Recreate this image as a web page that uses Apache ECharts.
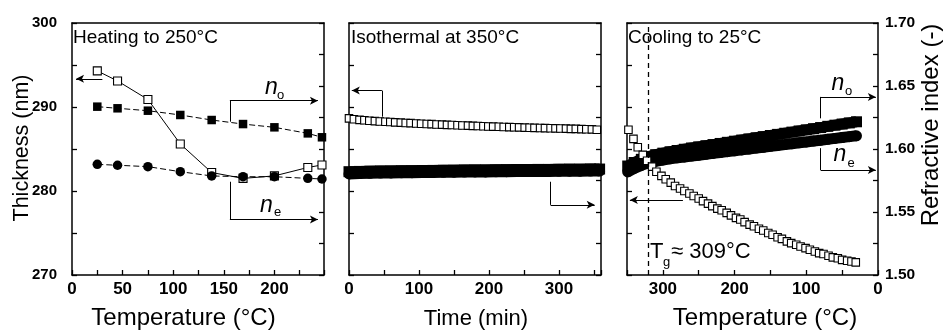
<!DOCTYPE html>
<html><head><meta charset="utf-8">
<script src="https://cdn.jsdelivr.net/npm/echarts@6/dist/echarts.min.js"></script>
<style>html,body{margin:0;padding:0;background:#fff}#c{width:945px;height:331px}</style>
</head><body><div id="c"></div><script>
// ---------- Panel 1: heating to 250 °C ----------
const heatT     = [25, 45, 75, 107, 138, 169, 200, 233, 247];
const heatThick = [294.3, 293.1, 290.9, 285.6, 282.2, 281.5, 281.8, 282.8, 283.1];
const heatNo    = [1.6336, 1.6323, 1.6304, 1.6270, 1.6230, 1.6198, 1.6172, 1.6124, 1.6093];
const heatNe    = [1.5878, 1.5871, 1.5860, 1.5820, 1.5786, 1.5780, 1.5780, 1.5767, 1.5762];

// ---------- Panel 2: isothermal at 350 °C ----------
const isoTime  = [0, 7, 15, 22, 29, 37, 44, 52, 59, 66, 74, 81, 88, 96, 103, 111, 118, 125, 133, 140,
                  147, 155, 162, 170, 177, 184, 192, 199, 206, 214, 221, 229, 236, 243, 251, 258, 265, 273, 280, 288,
                  295, 302, 310, 317, 324, 332, 339, 347, 354];
const isoThick = [288.65, 288.55, 288.47, 288.42, 288.36, 288.32, 288.28, 288.24, 288.21, 288.17,
                  288.14, 288.10, 288.08, 288.04, 288.01, 287.98, 287.96, 287.92, 287.90, 287.87,
                  287.85, 287.82, 287.80, 287.78, 287.75, 287.73, 287.71, 287.68, 287.66, 287.65,
                  287.62, 287.60, 287.59, 287.57, 287.55, 287.53, 287.52, 287.50, 287.48, 287.47,
                  287.45, 287.44, 287.42, 287.40, 287.39, 287.37, 287.36, 287.34, 287.30];
const isoRiTime = [0, 15, 30, 45, 60, 75, 90, 105, 120, 135, 150, 165, 180, 195, 210, 225, 240, 255, 270, 285, 300, 315, 330, 345, 358];
const isoNo = [1.5820, 1.5822, 1.5824, 1.5825, 1.5826, 1.5827, 1.5828, 1.5829, 1.5830, 1.5831, 1.5832, 1.5833, 1.5834,
               1.5834, 1.5835, 1.5836, 1.5837, 1.5837, 1.5838, 1.5838, 1.5839, 1.5840, 1.5840, 1.5841, 1.5841];
const isoNe = [1.5802, 1.5805, 1.5807, 1.5809, 1.5810, 1.5811, 1.5812, 1.5813, 1.5814, 1.5815, 1.5816, 1.5817, 1.5818,
               1.5818, 1.5819, 1.5820, 1.5821, 1.5821, 1.5822, 1.5822, 1.5823, 1.5824, 1.5824, 1.5825, 1.5825];

// ---------- Panel 3: cooling to 25 °C ----------
const coolT     = [348, 341, 335, 328, 322, 315, 309, 302, 296, 289, 283, 276, 270, 263, 257, 250, 244, 237, 231, 224,
                   218, 211, 205, 198, 192, 186, 179, 173, 166, 160, 153, 147, 140, 134, 127, 121, 114, 108, 101, 95,
                   88, 82, 76, 69, 63, 56, 50, 43, 37, 31];
const coolThick = [287.3, 286.2, 285.2, 284.3, 283.6, 282.9, 282.3, 281.8, 281.4, 281.0,
                   280.6, 280.3, 280.0, 279.7, 279.4, 279.1, 278.8, 278.5, 278.2, 277.9,
                   277.7, 277.4, 277.1, 276.8, 276.6, 276.3, 276.0, 275.8, 275.5, 275.3,
                   275.0, 274.8, 274.5, 274.3, 274.0, 273.8, 273.6, 273.4, 273.2, 273.0,
                   272.8, 272.6, 272.5, 272.3, 272.1, 272.0, 271.8, 271.7, 271.6, 271.5];
const coolRiT = [349, 340, 330, 320, 310, 300, 290, 280, 270, 260, 250, 240, 230, 220, 210, 200, 190,
                 180, 170, 160, 150, 140, 130, 120, 110, 100, 90, 80, 70, 60, 50, 40, 30];
const coolNo  = [1.5865, 1.5893, 1.5918, 1.5940, 1.5955, 1.5967, 1.5978, 1.5988, 1.5998, 1.6008, 1.6017,
                 1.6026, 1.6035, 1.6044, 1.6053, 1.6062, 1.6071, 1.6080, 1.6089, 1.6098, 1.6107, 1.6116,
                 1.6125, 1.6134, 1.6143, 1.6152, 1.6161, 1.6170, 1.6180, 1.6189, 1.6198, 1.6207, 1.6216];
const coolNe  = [1.5818, 1.5846, 1.5870, 1.5890, 1.5903, 1.5913, 1.5922, 1.5930, 1.5937, 1.5944, 1.5951,
                 1.5958, 1.5965, 1.5972, 1.5979, 1.5986, 1.5993, 1.6000, 1.6007, 1.6014, 1.6021, 1.6028,
                 1.6035, 1.6042, 1.6049, 1.6056, 1.6063, 1.6070, 1.6077, 1.6084, 1.6091, 1.6098, 1.6105];
const tgLine = 320;

const FONT = '"Liberation Sans", Arial, sans-serif';
const pair = (xs, ys) => xs.map((x, i) => [x, ys[i]]);

const tick = { show: true, inside: true, length: 5, lineStyle: { color: '#000', width: 1.3 } };
const labelBase = (size) => ({ color: '#000', fontFamily: FONT, fontWeight: 'bold', fontSize: size });

function xAx(grid, max, inverse, labelEvery) {
  return {
    type: 'value', gridIndex: grid, min: 0, max: max, interval: 50, inverse: inverse,
    axisLine: { show: true, lineStyle: { color: '#000', width: 1.5 } },
    axisTick: tick, splitLine: { show: false },
    axisLabel: Object.assign({ margin: 6, formatter: v => (v % labelEvery === 0 ? String(v) : '') }, labelBase(17))
  };
}
function xAx1() {
  const a = xAx(0, 249, false, 50);
  a.interval = 25;
  return a;
}
function yThick(grid, showLabel) {
  return {
    type: 'value', gridIndex: grid, position: 'left', min: 270, max: 300, interval: 5,
    axisLine: { show: true, lineStyle: { color: '#000', width: 1.5 } },
    axisTick: tick, splitLine: { show: false },
    axisLabel: Object.assign({ show: showLabel, margin: 15, formatter: v => (v % 10 === 0 ? String(v) : '') }, labelBase(15))
  };
}
function yRi(grid, showLabel) {
  return {
    type: 'value', gridIndex: grid, position: 'right', min: 1.5, max: 1.7, interval: 0.025,
    axisLine: { show: true, lineStyle: { color: '#000', width: 1.5 } },
    axisTick: tick, splitLine: { show: false },
    axisLabel: Object.assign({ show: showLabel, margin: 7,
      formatter: v => (Math.round(v * 1000) % 50 === 0 ? v.toFixed(2) : '') }, labelBase(15.5))
  };
}

const ml = (pts, arrowEnd) => pts.slice(0, -1).map((p, i) => [
  { coord: p, symbol: 'none' },
  { coord: pts[i + 1], symbol: (arrowEnd && i === pts.length - 2) ? 'arrow' : 'none' }
]);
const markLineBase = (data) => ({
  silent: true, symbol: ['none', 'none'], symbolSize: [6, 8], animation: false,
  label: { show: false }, emphasis: { disabled: true },
  lineStyle: { color: '#000', width: 1, type: 'solid' }, data: data
});

const openSq = (size) => ({ symbol: 'rect', symbolSize: size, itemStyle: { color: '#fff', borderColor: '#000', borderWidth: 1.1 } });

const series = [
  // Panel 1
  Object.assign({ type: 'line', xAxisIndex: 0, yAxisIndex: 0, z: 2, showAllSymbol: true,
    data: pair(heatT, heatThick), lineStyle: { color: '#000', width: 1 },
    markLine: markLineBase([].concat(
      ml([[30, 293.35], [4, 293.35]], true),
      ml([[156, 288.25], [156, 290.75], [243, 290.75]], true),
      ml([[156, 281.1], [156, 276.6], [243, 276.6]], true)
    )) }, openSq(8)),
  { type: 'line', xAxisIndex: 0, yAxisIndex: 1, z: 3, showAllSymbol: true, data: pair(heatT, heatNo),
    symbol: 'rect', symbolSize: 8.5, itemStyle: { color: '#000' },
    lineStyle: { color: '#000', width: 1, type: [6, 3] } },
  { type: 'line', xAxisIndex: 0, yAxisIndex: 1, z: 3, showAllSymbol: true, data: pair(heatT, heatNe),
    symbol: 'circle', symbolSize: 9.5, itemStyle: { color: '#000' },
    lineStyle: { color: '#000', width: 1, type: [6, 3] } },
  // Panel 2
  { type: 'line', xAxisIndex: 1, yAxisIndex: 3, z: 2, showAllSymbol: true, data: pair(isoRiTime, isoNo),
    symbol: 'rect', symbolSize: 11, itemStyle: { color: '#000' }, lineStyle: { color: '#000', width: 11 } },
  { type: 'line', xAxisIndex: 1, yAxisIndex: 3, z: 2, showAllSymbol: true, data: pair(isoRiTime, isoNe),
    symbol: 'circle', symbolSize: 11, itemStyle: { color: '#000' }, lineStyle: { color: '#000', width: 11 } },
  Object.assign({ type: 'line', xAxisIndex: 1, yAxisIndex: 2, z: 3, showAllSymbol: true,
    data: pair(isoTime, isoThick), lineStyle: { width: 0, opacity: 0 },
    markLine: markLineBase([].concat(
      ml([[47, 288.85], [47, 291.95], [4, 291.95]], true),
      ml([[288, 281.1], [288, 278.35], [351, 278.35]], true)
    )) }, openSq(7.5)),
  // Panel 3
  { type: 'line', xAxisIndex: 2, yAxisIndex: 5, z: 2, showAllSymbol: true, data: pair(coolRiT, coolNo),
    symbol: 'rect', symbolSize: 11, itemStyle: { color: '#000' }, lineStyle: { color: '#000', width: 11 } },
  { type: 'line', xAxisIndex: 2, yAxisIndex: 5, z: 2, showAllSymbol: true, data: pair(coolRiT, coolNe),
    symbol: 'circle', symbolSize: 11, itemStyle: { color: '#000' }, lineStyle: { color: '#000', width: 11 } },
  Object.assign({ type: 'line', xAxisIndex: 2, yAxisIndex: 4, z: 3, showAllSymbol: true,
    data: pair(coolT, coolThick), lineStyle: { width: 0, opacity: 0 },
    markLine: markLineBase([].concat(
      ml([[272, 278.93], [346, 278.93]], true),
      ml([[80, 288.65], [80, 291.2], [3, 291.2]], true),
      ml([[80, 285.1], [80, 282.5], [3, 282.5]], true),
      [[{ coord: [tgLine, 270], symbol: 'none', lineStyle: { type: [5, 4], width: 1.3 } },
        { coord: [tgLine, 300], symbol: 'none' }]]
    )) }, openSq(7.5))
];

const txt = (text, x, y, size, opts) => Object.assign({
  type: 'text', x: x, y: y, silent: true, z: 100,
  style: Object.assign({ text: text, font: size + 'px ' + FONT, fill: '#000', align: 'left', verticalAlign: 'middle' }, (opts && opts.style) || {})
}, (opts && opts.el) || {});
const italic = (text, x, y, size) => ({ type: 'text', x: x, y: y, silent: true, z: 100,
  style: { text: text, font: 'italic ' + size + 'px ' + FONT, fill: '#000', align: 'center', verticalAlign: 'middle' } });
const center = { style: { align: 'center' } };

const graphic = [
  txt('Heating to 250°C', 73, 38, 19),
  txt('Isothermal at 350°C', 351, 38, 19),
  txt('Cooling to 25°C', 628, 38, 19),
  txt('Thickness (nm)', 22, 148, 21.5, { style: { align: 'center' }, el: { rotation: Math.PI / 2 } }),
  txt('Refractive index (-)', 931, 125, 24, { style: { align: 'center' }, el: { rotation: Math.PI / 2 } }),
  txt('Temperature (°C)', 183.5, 318, 24, center),
  txt('Time (min)', 476, 319, 22, center),
  txt('Temperature (°C)', 765, 318, 24, center),
  italic('n', 271.5, 87.5, 23), txt('o', 280.5, 95.5, 13, center),
  italic('n', 266.5, 205.5, 23), txt('e', 277.5, 212.5, 13, center),
  italic('n', 838, 84, 23), txt('o', 848.5, 91, 13, center),
  italic('n', 840, 155, 23), txt('e', 851, 163, 13, center),
  txt('T', 650, 252, 22), txt('g', 663, 262, 13), txt('\u2248 309°C', 671, 252, 22)
];

const gridBase = { top: 23, height: 252, show: false, containLabel: false, outerBoundsMode: 'none' };
const option = {
  animation: false,
  backgroundColor: '#fff',
  grid: [
    Object.assign({ left: 72, width: 252 }, gridBase),
    Object.assign({ left: 349, width: 252 }, gridBase),
    Object.assign({ left: 627, width: 251 }, gridBase)
  ],
  xAxis: [xAx1(), xAx(1, 360, false, 100), xAx(2, 350, true, 100)],
  yAxis: [yThick(0, true), yRi(0, false), yThick(1, false), yRi(1, false), yThick(2, false), yRi(2, true)],
  series: series,
  graphic: graphic
};
// top frame line for each panel via extra top x axes
[0, 1, 2].forEach(g => {
  option.xAxis.push({ type: 'value', gridIndex: g, position: 'top', min: 0, max: 1,
    axisLine: { show: true, onZero: false, lineStyle: { color: '#000', width: 1.5 } },
    axisTick: { show: false }, axisLabel: { show: false }, splitLine: { show: false } });
});
option.yAxis.forEach(a => { a.axisLine.onZero = false; });
option.xAxis.forEach(a => { a.axisLine.onZero = false; });

const chart = echarts.init(document.getElementById('c'), null, { renderer: 'canvas' });
chart.setOption(option);
</script></body></html>
